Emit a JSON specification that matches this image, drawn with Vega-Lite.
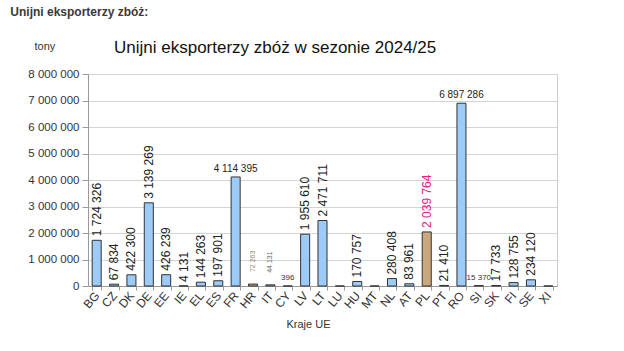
{
  "$schema": "https://vega.github.io/schema/vega-lite/v6.json",
  "background": "white",
  "padding": {"left": 10, "top": 5, "right": 5, "bottom": 5},
  "title": {"text": "Unijni eksporterzy zbóż:", "anchor": "start", "frame": "bounds", "dx": -17, "offset": 20, "fontSize": 12, "fontWeight": "bold", "font": "Liberation Sans", "color": "#3a3a3a"},
  "config": {
    "locale": {"number": {"decimal": ",", "thousands": " ", "grouping": [3], "currency": ["", ""]}},
    "font": "Liberation Sans",
    "view": {"stroke": "#cccccc"}
  },
  "data": {"values": [
    {"kraj": "BG", "tony": 1724326},
    {"kraj": "CZ", "tony": 67834},
    {"kraj": "DK", "tony": 422300},
    {"kraj": "DE", "tony": 3139269},
    {"kraj": "EE", "tony": 426239},
    {"kraj": "IE", "tony": 4131},
    {"kraj": "EL", "tony": 144263},
    {"kraj": "ES", "tony": 197901},
    {"kraj": "FR", "tony": 4114395},
    {"kraj": "HR", "tony": 72263},
    {"kraj": "IT", "tony": 44131},
    {"kraj": "CY", "tony": 396},
    {"kraj": "LV", "tony": 1955610},
    {"kraj": "LT", "tony": 2471711},
    {"kraj": "LU", "tony": 0},
    {"kraj": "HU", "tony": 170757},
    {"kraj": "MT", "tony": 0},
    {"kraj": "NL", "tony": 280408},
    {"kraj": "AT", "tony": 83961},
    {"kraj": "PL", "tony": 2039764},
    {"kraj": "PT", "tony": 21410},
    {"kraj": "RO", "tony": 6897286},
    {"kraj": "SI", "tony": 15370},
    {"kraj": "SK", "tony": 17733},
    {"kraj": "FI", "tony": 128755},
    {"kraj": "SE", "tony": 234120},
    {"kraj": "XI", "tony": 0}
  ]},
  "vconcat": [
    {
      "width": 469,
      "height": 212,
      "title": {"text": "Unijni eksporterzy zbóż w sezonie 2024/25", "anchor": "start", "frame": "group", "dx": 26, "offset": -17, "fontSize": 17, "fontWeight": "normal", "color": "#111111", "font": "Liberation Sans"},
      "encoding": {
        "x": {"field": "kraj", "type": "nominal", "sort": null,
          "scale": {"paddingInner": 0.48, "paddingOuter": 0.24},
          "axis": {"title": "Kraje UE", "titleFontSize": 11, "titleFontWeight": "normal", "titleColor": "#333333", "titleX": 220, "titleY": 38, "titleAlign": "center", "titleBaseline": "middle",
            "labelAngle": -50, "labelAlign": "right", "labelBaseline": "middle", "labelFontSize": 12, "labelColor": "#333333", "labelPadding": 3,
            "tickBand": "extent", "tickColor": "#999999", "tickSize": 4, "domainColor": "#999999"}},
        "y": {"field": "tony", "type": "quantitative",
          "scale": {"domain": [0, 8000000], "nice": false},
          "axis": {"values": [0, 1000000, 2000000, 3000000, 4000000, 5000000, 6000000, 7000000, 8000000], "format": ",d",
            "title": "tony", "titleAngle": 0, "titleAlign": "left", "titleBaseline": "middle", "titleX": -54, "titleY": -28, "titleFontSize": 11, "titleFontWeight": "normal", "titleColor": "#333333",
            "labelFontSize": 11.5, "labelColor": "#333333", "labelPadding": 3, "tickSize": 6, "tickColor": "#999999", "domainColor": "#999999", "gridColor": "#d4d4d4"}}
      },
      "layer": [
        {"mark": {"type": "bar", "stroke": "#333333", "strokeWidth": 1},
          "encoding": {"fill": {"condition": {"test": "indexof(['PL','HR'], datum.kraj) >= 0", "value": "#c9a77f"}, "value": "#9ccbf7"}}},
        {"transform": [{"filter": "indexof(['FR','RO','CY','SI','HR','IT','LU','MT','XI'], datum.kraj) < 0"}],
          "mark": {"type": "text", "angle": 270, "align": "left", "baseline": "middle", "dx": 4, "fontSize": 12},
          "encoding": {"text": {"field": "tony", "type": "quantitative", "format": ",d"},
            "color": {"condition": {"test": "datum.kraj === 'PL'", "value": "#e0218a"}, "value": "#222222"}}},
        {"transform": [{"filter": "indexof(['FR','RO'], datum.kraj) >= 0"}],
          "mark": {"type": "text", "align": "center", "baseline": "bottom", "dy": -3, "fontSize": 10, "color": "#222222"},
          "encoding": {"text": {"field": "tony", "type": "quantitative", "format": ",d"}}},
        {"transform": [{"filter": "indexof(['CY','SI'], datum.kraj) >= 0"}],
          "mark": {"type": "text", "align": "center", "baseline": "bottom", "dy": -4, "fontSize": 8, "color": "#333333"},
          "encoding": {"text": {"field": "tony", "type": "quantitative", "format": ",d"}}},
        {"transform": [{"filter": "indexof(['HR','IT'], datum.kraj) >= 0"}],
          "mark": {"type": "text", "angle": 270, "align": "left", "baseline": "middle", "dx": 12, "fontSize": 7},
          "encoding": {"text": {"field": "tony", "type": "quantitative", "format": ",d"},
            "color": {"condition": {"test": "datum.kraj === 'HR'", "value": "#9a8a70"}, "value": "#666666"}}}
      ]
    }
  ]
}
